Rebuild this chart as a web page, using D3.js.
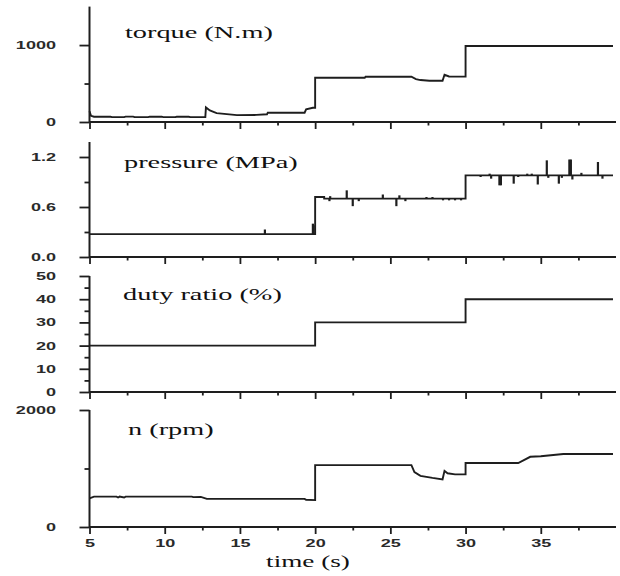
<!DOCTYPE html>
<html>
<head>
<meta charset="utf-8">
<script src="https://cdn.jsdelivr.net/npm/d3@7"></script>
<style>
  html, body { margin: 0; padding: 0; background: #fff; }
  svg { display: block; }
  .ttl { font-family: "Liberation Serif", "Times New Roman", Times, "DejaVu Serif", serif; }
  .tk { font-family: "Liberation Sans", Arial, Helvetica, sans-serif; font-weight: bold; }
</style>
</head>
<body>
<svg id="chart" width="620" height="576"></svg>
<script>
// ---------- data ----------
const xMajorTicks = [5, 10, 15, 20, 25, 30, 35];
const xMinorTicks = [7.5, 12.5, 17.5, 22.5, 27.5, 32.5, 37.5];
const xLabel = "time (s)";

const titles = ["torque (N.m)", "pressure (MPa)", "duty ratio (%)", "n (rpm)"];

const torque = [[5.0,140],[5.1,80],[5.3,68],[6.4,68],[6.5,64],[7.3,64],[7.4,70],[7.9,70],[8.0,64],
  [8.9,64],[9.0,69],[9.8,69],[9.9,63],[10.7,63],[10.8,68],[11.6,68],[11.7,63],[12.7,63],
  [12.74,190],[13.0,150],[13.45,115],[14.8,90],[16.1,92],[16.8,100],[16.85,121],[19.3,121],
  [19.4,165],[19.85,185],[20.0,185],[20.0,575],[23.3,575],[23.35,588],[26.4,588],[26.7,558],
  [27.0,545],[27.6,537],[28.47,537],[28.6,614],[28.9,592],[30.0,590],[30.0,987],[39.8,987]];

const pressureBase = [[5,0.275],[20,0.275],[20,0.72],[20.6,0.72],[20.6,0.70],[30,0.70],[30,0.98],[39.8,0.98]];
const pressureSpikes = [[16.66,0.33],[19.85,0.40],[19.9,0.38],[20.95,0.67],[21.0,0.73],[22.1,0.80],
  [22.5,0.61],[22.9,0.67],[24.5,0.75],[25.4,0.61],[25.6,0.74],[26.0,0.67],[27.4,0.72],[27.8,0.72],
  [28.5,0.68],[28.9,0.68],[29.3,0.68],[29.7,0.68],[31.0,0.96],[31.6,1.0],[31.7,0.94],[32.25,0.86],
  [32.35,0.86],[33.2,0.88],[33.5,0.96],[34.1,1.0],[34.4,1.0],[34.8,0.87],[35.4,1.16],[35.5,0.95],
  [36.2,0.88],[36.4,0.95],[36.9,1.17],[37.0,1.17],[37.1,0.93],[37.7,1.01],[38.8,1.14],[39.1,0.94]];

const duty = [[5,20],[20,20],[20,30],[30,30],[30,40],[39.8,40]];

const speed = [[5.0,490],[5.3,520],[6.8,520],[6.9,505],[7.0,520],[7.3,505],[7.4,520],[11.8,520],
  [11.9,510],[12.4,515],[12.8,480],[19.3,480],[19.4,465],[20.0,460],[20.0,1057],[26.4,1057],
  [26.6,938],[27.0,875],[27.8,840],[28.47,815],[28.6,960],[28.8,918],[29.3,900],[30.0,900],
  [30.0,1093],[33.5,1093],[34.3,1200],[35.0,1210],[36.5,1247],[39.8,1247]];

const yDomains = [[0,1500],[0,1.38],[0,50],[0,2000]];
const yMajorTicks = [[0,1000],[0,0.6,1.2],[0,10,20,30,40,50],[0,2000]];
const yMinorTicks = [[500],[0.3,0.9],[5,15,25,35,45],[1000]];
const yFormats = [d3.format("d"), d3.format(".1f"), d3.format("d"), d3.format("d")];

// ---------- layout ----------
const svg = d3.select("#chart");
const ink = "#1e1e1e";
const sx = 1.77; // horizontal stretch of the text in the reference
const x = d3.scaleLinear().domain([5, 40]).range([89.5, 616]);
const panelRanges = [[122, 6.6], [257, 142], [392, 276], [527, 410]];
const titlePos = [[125, 37.5], [124, 167.5], [123, 300], [128, 435]];

panelRanges.forEach((r, i) => {
  const y = d3.scaleLinear().domain(yDomains[i]).range(r);
  const g = svg.append("g");

  // data
  const series = [torque, pressureBase, duty, speed][i];
  g.append("path")
    .attr("d", d3.line().x(d => x(d[0])).y(d => y(d[1]))(series))
    .attr("fill", "none").attr("stroke", ink).attr("stroke-width", 1.9)
    .attr("stroke-linejoin", "miter");

  if (i === 1) {
    const bis = d3.bisector(d => d[0]).right;
    g.selectAll("line.spike").data(pressureSpikes).join("line")
      .attr("class", "spike")
      .attr("x1", d => x(d[0])).attr("x2", d => x(d[0]))
      .attr("y1", d => {
        const k = Math.max(0, bis(pressureBase, d[0]) - 1);
        return y(pressureBase[k][1]);
      })
      .attr("y2", d => y(d[1]))
      .attr("stroke", ink).attr("stroke-width", 2.2);
  }

  // y axis: major + minor
  const ay = g.append("g").attr("transform", `translate(${x(5)},0)`)
    .call(d3.axisLeft(y).tickValues(yMajorTicks[i]).tickSize(10).tickSizeOuter(0).tickPadding(0).tickFormat(yFormats[i]));
  ay.select(".domain").attr("d", `M0,${r[0]}V${r[1]}`);
  const ayMin = g.append("g").attr("transform", `translate(${x(5)},0)`)
    .call(d3.axisLeft(y).tickValues(yMinorTicks[i]).tickSize(5).tickSizeOuter(0).tickFormat(""));
  ayMin.select(".domain").remove();
  ay.attr("font-family", null).attr("font-size", null);

  ay.selectAll("text")
    .attr("x", null).attr("dy", null)
    .attr("class", "tk")
    .attr("transform", `translate(-33.5,3.5) scale(${sx},1)`)
    .style("font-size", "10.2px")
    .attr("fill", "#2a2a2a");

  // x axis
  const ax = g.append("g").attr("transform", `translate(0,${r[0]})`)
    .call(d3.axisBottom(x).tickValues(xMajorTicks).tickSize(7).tickSizeOuter(0).tickPadding(0)
      .tickFormat(i === 3 ? d3.format("d") : ""));
  ax.select(".domain").attr("d", `M${x(5)},0H${x(40)}`);
  const axMin = g.append("g").attr("transform", `translate(0,${r[0]})`)
    .call(d3.axisBottom(x).tickValues(xMinorTicks).tickSize(3.5).tickSizeOuter(0).tickFormat(""));
  axMin.select(".domain").remove();
  ax.attr("font-family", null).attr("font-size", null);

  ax.selectAll("text")
    .attr("y", null).attr("dy", null)
    .attr("class", "tk")
    .attr("transform", `translate(0,19.5) scale(${sx},1)`)
    .style("font-size", "10.2px")
    .attr("fill", "#2a2a2a");

  [ay, ayMin, ax, axMin].forEach(a => {
    a.selectAll(".domain").attr("stroke", ink).attr("stroke-width", 2);
    a.selectAll(".tick line").attr("stroke", ink).attr("stroke-width", 1.8);
  });

  // panel title
  g.append("text")
    .attr("class", "ttl")
    .attr("transform", `translate(${titlePos[i][0]},${titlePos[i][1]}) scale(${sx},1)`)
    .style("font-size", "16px").attr("fill", "#111")
    .text(titles[i]);
});

// x-axis title
svg.append("text")
  .attr("class", "ttl")
  .attr("transform", `translate(308,567) scale(1.7,1)`)
  .attr("text-anchor", "middle")
  .style("font-size", "16px").attr("fill", "#111")
  .text(xLabel);
</script>
</body>
</html>
